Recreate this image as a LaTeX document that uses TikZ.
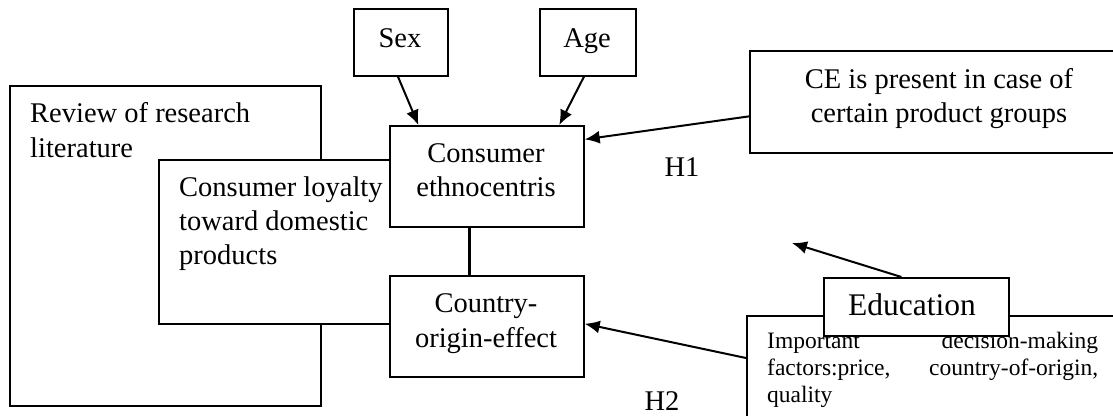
\documentclass[tikz,border=0pt]{standalone}
\usepackage{fontspec}
\setmainfont{Liberation Serif}
\usetikzlibrary{arrows.meta,calc}
\newcommand\fmain{\fontsize{28.5}{34}\selectfont}
\newcommand\fedu{\fontsize{31.5}{38}\selectfont}
\newcommand\fsmall{\fontsize{23.5}{27}\selectfont}
\begin{document}
\begin{tikzpicture}[x=1pt,y=-1pt,
  box/.style={draw, line width=1.7pt, fill=white, inner sep=0pt, anchor=north west},
  txt/.style={inner sep=0pt, font=\fmain, anchor=base west},
  lab/.style={inner sep=0pt, font=\fmain, anchor=base},
  small/.style={inner sep=0pt, font=\fsmall, anchor=base west},
  arr/.style={line width=2pt, -{Latex[length=15pt,width=13pt]}},
  link/.style={line width=1.7pt}]
\useasboundingbox (0,0) rectangle (1113,415);
% literature review
\node[box, minimum width=311pt, minimum height=320pt] (review) at (9,85) {};
\node[txt] (rev1) at (30,122) {Review of research};
\node[txt] (rev2) at (30,157) {literature};
% loyalty
\node[box, minimum width=311pt, minimum height=164pt] (loyal) at (158,159) {};
\node[txt] (loy1) at (179,196) {Consumer loyalty};
\node[txt] (loy2) at (179,230) {toward domestic};
\node[txt] (loy3) at (179,264) {products};
% central boxes
\node[box, minimum width=194pt, minimum height=101pt] (ce) at (389,125) {};
\node[lab] (ce1) at (486,162) {Consumer};
\node[lab] (ce2) at (486,196) {ethnocentris};
\node[box, minimum width=194pt, minimum height=101pt] (country) at (389,275) {};
\node[lab] (co1) at (486,312) {Country-};
\node[lab] (co2) at (486,347) {origin-effect};
\draw[link] ($(ce.south west)!0.41!(ce.south east)$) coordinate (lk) -- (lk |- country.north);
% sex, age
\node[box, minimum width=94pt, minimum height=67pt] (sex) at (353,8) {};
\node[lab] (sext) at (400,47) {Sex};
\node[box, minimum width=96pt, minimum height=67pt] (age) at (539,8) {};
\node[lab] (aget) at (587,47) {Age};
% CE present
\node[box, minimum width=380pt, minimum height=102pt] (cepres) at (749,50) {};
\node[lab] (cp1) at (939,88) {CE is present in case of};
\node[lab] (cp2) at (939,122) {certain product groups};
% hypotheses labels
\node[lab] (h1) at (682,176) {H1};
\node[lab] (h2) at (662,410) {H2};
% important factors
\node[box, minimum width=400pt, minimum height=150pt] (imp) at (746,315) {};
\node[small] (im1) at (767,348) {\makebox[331pt][s]{Important decision-making}};
\node[small] (im2) at (767,375) {\makebox[331pt][s]{factors:price, country-of-origin,}};
\node[small] (im3) at (767,402) {quality};
% education
\node[box, minimum width=185pt, minimum height=58pt] (edu) at (823,277) {};
\node[inner sep=0pt, font=\fedu, anchor=base] (edut) at (912,315) {Education};
% arrows
\draw[arr] ($(sex.south west)!0.47!(sex.south east)$) -- ($(ce.north west)!0.15!(ce.north east)$);
\draw[arr] ($(age.south west)!0.46!(age.south east)$) -- ($(ce.north west)!0.87!(ce.north east)$);
\draw[arr] ($(cepres.north west)!0.64!(cepres.south west)$) -- ($(ce.north east)!0.14!(ce.south east)$);
\coordinate (eduend) at (792,243);
\draw[arr] ($(edu.north west)!0.42!(edu.north east)$) -- (eduend);
\draw[arr] ($(imp.north west)+(0,43)$) -- ($(country.north east)!0.475!(country.south east)$);
\end{tikzpicture}
\end{document}
